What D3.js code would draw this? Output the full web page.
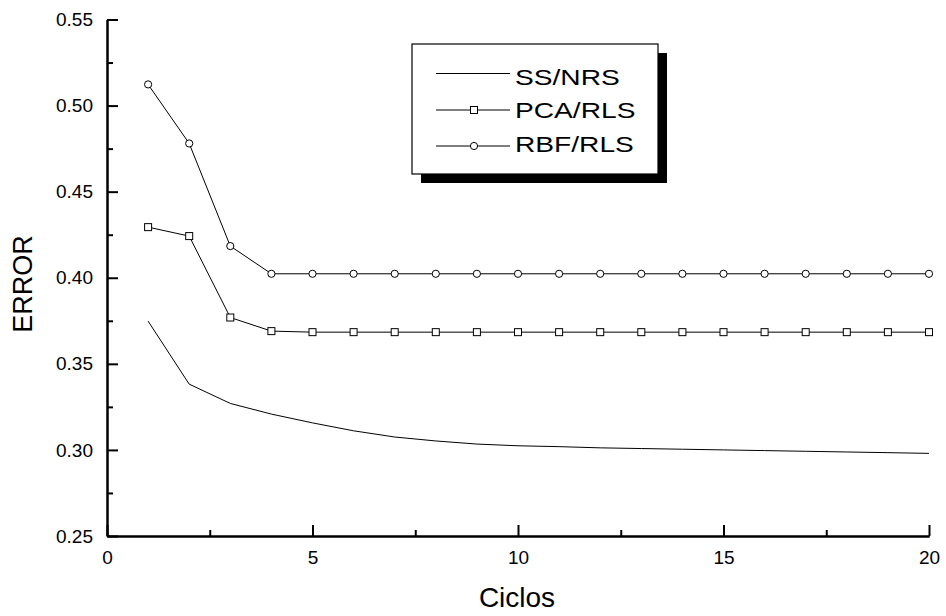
<!DOCTYPE html>
<html>
<head>
<meta charset="utf-8">
<script src="https://cdn.jsdelivr.net/npm/d3@7"></script>
<style>
  body { margin: 0; background: #fff; }
  svg { display: block; font-family: "Liberation Sans", Arial, sans-serif; }
</style>
</head>
<body>
<svg id="chart" width="946" height="616"></svg>
<script>
// values
const ciclos = [1, 2, 3, 4, 5, 6, 7, 8, 9, 10, 11, 12, 13, 14, 15, 16, 17, 18, 19, 20];
const ssNrs = [0.3748, 0.3382, 0.3270, 0.3208, 0.3157, 0.3111, 0.3075, 0.3052, 0.3034, 0.3024,
               0.3019, 0.3012, 0.3008, 0.3004, 0.3000, 0.2996, 0.2992, 0.2988, 0.2984, 0.2980];
const pcaRls = [0.4294, 0.4242, 0.3769, 0.3690, 0.3684, 0.3684, 0.3684, 0.3684, 0.3684, 0.3684,
                0.3684, 0.3684, 0.3684, 0.3684, 0.3684, 0.3684, 0.3684, 0.3684, 0.3684, 0.3684];
const rbfRls = [0.5123, 0.4780, 0.4184, 0.4023, 0.4023, 0.4023, 0.4023, 0.4023, 0.4023, 0.4023,
                0.4023, 0.4023, 0.4023, 0.4023, 0.4023, 0.4023, 0.4023, 0.4023, 0.4023, 0.4023];
const seriesNames = ['SS/NRS', 'PCA/RLS', 'RBF/RLS'];
const xTicks = [0, 5, 10, 15, 20];
const xMinorTicks = [2.5, 7.5, 12.5, 17.5];
const yTicks = [0.25, 0.30, 0.35, 0.40, 0.45, 0.50, 0.55];
const yMinorTicks = [0.275, 0.325, 0.375, 0.425, 0.475, 0.525];

var svg = d3.select('#chart');
var x = d3.scaleLinear().domain([0, 20]).range([107, 929]);
var y = d3.scaleLinear().domain([0.25, 0.55]).range([536, 19.5]);

// axes (ticks point inward)
svg.append('g').attr('class', 'axis').attr('transform', 'translate(0,536)')
  .call(d3.axisBottom(x).tickValues(xTicks).tickSizeInner(-11).tickSizeOuter(0).tickPadding(15).tickFormat(d3.format('d')));
svg.append('g').attr('class', 'axis').attr('transform', 'translate(0,536)')
  .call(d3.axisBottom(x).tickValues(xMinorTicks).tickSizeInner(-6).tickSizeOuter(0).tickFormat(''));
svg.append('g').attr('class', 'axis').attr('transform', 'translate(107,0)')
  .call(d3.axisLeft(y).tickValues(yTicks).tickSizeInner(-11).tickSizeOuter(0).tickPadding(14).tickFormat(d3.format('.2f')));
svg.append('g').attr('class', 'axis').attr('transform', 'translate(107,0)')
  .call(d3.axisLeft(y).tickValues(yMinorTicks).tickSizeInner(-6).tickSizeOuter(0).tickFormat(''));

svg.selectAll('.axis').attr('color', '#000');
svg.selectAll('.axis .domain').attr('stroke-width', 2);
svg.selectAll('.axis .tick line').attr('stroke-width', 2);
svg.selectAll('.axis .tick text').attr('font-size', 19).attr('fill', '#000')
   .attr('font-family', '"Liberation Sans", Arial, sans-serif');

// axis titles
svg.append('text')
   .attr('x', 517).attr('y', 607)
   .attr('font-size', 28)
   .style('text-anchor', 'middle')
   .text('Ciclos');

svg.append('text')
   .attr('transform', 'translate(32,284) rotate(-90)')
   .attr('font-size', 27)
   .style('text-anchor', 'middle')
   .text('ERROR');

// series
var line = d3.line().x((d, i) => x(ciclos[i])).y(d => y(d));

[ssNrs, pcaRls, rbfRls].forEach(function(values) {
  svg.append('path').datum(values)
     .attr('d', line).attr('fill', 'none').attr('stroke', '#000').attr('stroke-width', 1);
});

svg.append('g').selectAll('rect').data(pcaRls).enter().append('rect')
   .attr('x', (d, i) => x(ciclos[i]) - 3.5)
   .attr('y', d => y(d) - 3.5)
   .attr('width', 7).attr('height', 7)
   .attr('fill', '#fff').attr('stroke', '#000').attr('stroke-width', 1);

svg.append('g').selectAll('circle').data(rbfRls).enter().append('circle')
   .attr('cx', (d, i) => x(ciclos[i]))
   .attr('cy', d => y(d))
   .attr('r', 3.6)
   .attr('fill', '#fff').attr('stroke', '#000').attr('stroke-width', 1);

// legend with drop shadow
var legend = svg.append('g');
legend.append('rect').attr('x', 421).attr('y', 53).attr('width', 246).attr('height', 130).attr('fill', '#000');
legend.append('rect').attr('x', 412).attr('y', 44).attr('width', 246).attr('height', 130)
      .attr('fill', '#fff').attr('stroke', '#000').attr('stroke-width', 1.2);

var rowLine = [73.5, 110, 146];
var rowText = [85, 117.5, 152];
seriesNames.forEach(function(name, idx) {
  legend.append('line')
        .attr('x1', 436).attr('x2', 510)
        .attr('y1', rowLine[idx]).attr('y2', rowLine[idx])
        .attr('stroke', '#000').attr('stroke-width', 1);
  if (idx == 1) {
    legend.append('rect').attr('x', 470.5).attr('y', rowLine[idx] - 3.5).attr('width', 7).attr('height', 7)
          .attr('fill', '#fff').attr('stroke', '#000');
  } else if (idx == 2) {
    legend.append('circle').attr('cx', 474).attr('cy', rowLine[idx]).attr('r', 3.6)
          .attr('fill', '#fff').attr('stroke', '#000');
  }
  legend.append('text')
        .attr('transform', 'translate(515,' + rowText[idx] + ') scale(1.28,1)')
        .attr('font-size', 22)
        .text(name);
});
</script>
</body>
</html>
